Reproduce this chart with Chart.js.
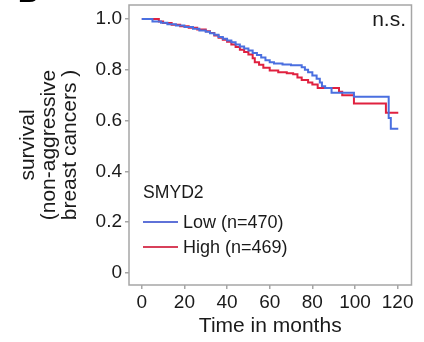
<!DOCTYPE html>
<html>
<head>
<meta charset="utf-8">
<script src="https://cdn.jsdelivr.net/npm/chart.js@4"></script>
<style>
  html, body { margin: 0; padding: 0; background: #fff; }
  #wrap { position: relative; width: 424px; height: 342px; overflow: hidden; font-family: "Liberation Sans", Arial, sans-serif; color: #1a1a1a; }
  canvas { position: absolute; left: 0; top: 0; }
  .lbl { position: absolute; white-space: nowrap; }
  .swatch { position: absolute; height: 2px; }
</style>
</head>
<body>
<div id="wrap">
  <canvas id="km" width="424" height="342"></canvas>
  <div class="lbl" style="left:18px; top:-21px; font-size:28px; line-height:28px; font-weight:bold; color:#000">B</div>
  <div class="lbl" style="right:18px; top:8px; font-size:21px; line-height:21px">n.s.</div>
  <div class="lbl" style="left:143px; top:184px; font-size:17.6px; line-height:17.6px">SMYD2</div>
  <div class="swatch" style="left:143px; top:221px; width:35px; background:#5f72d8"></div>
  <div class="lbl" style="left:183px; top:213px; font-size:18px; line-height:18px">Low (n=470)</div>
  <div class="swatch" style="left:143px; top:246px; width:35px; background:#d8405a"></div>
  <div class="lbl" style="left:183px; top:238px; font-size:18px; line-height:18px">High (n=469)</div>
</div>
<script>
"use strict";
// --- dados (Kaplan-Meier, degraus) -------------------------------------------
const lowT  = [0, 5, 9, 12, 16, 20, 24, 27, 30, 32, 34, 36, 38, 40, 42, 44, 46, 48, 50, 52, 54, 56, 58, 60, 62, 66, 70, 75, 76.5, 78, 80, 82, 83.5, 84.5, 86, 89, 99.5, 115.8, 116.8, 120.3];
const lowS  = [1.0, 0.99, 0.985, 0.979, 0.974, 0.968, 0.962, 0.955, 0.95, 0.944, 0.938, 0.929, 0.922, 0.915, 0.908, 0.9, 0.892, 0.884, 0.876, 0.866, 0.858, 0.848, 0.838, 0.83, 0.825, 0.821, 0.818, 0.81, 0.8, 0.79, 0.778, 0.765, 0.75, 0.735, 0.728, 0.71, 0.694, 0.61, 0.568, 0.568];
const highT = [0, 8, 10, 14, 18, 22, 26, 30, 32, 34, 36, 38, 40, 42, 44, 46, 48, 50, 52, 53, 55, 57, 60, 64, 68, 71, 73, 75, 78, 80, 82.5, 92.5, 94, 99.5, 114.5, 120.3];
const highS = [1.0, 0.99, 0.984, 0.977, 0.971, 0.965, 0.959, 0.952, 0.945, 0.935, 0.926, 0.918, 0.91, 0.9, 0.89, 0.879, 0.87, 0.86, 0.845, 0.83, 0.82, 0.808, 0.797, 0.79, 0.786, 0.782, 0.77, 0.76, 0.75, 0.742, 0.728, 0.714, 0.7, 0.667, 0.631, 0.631];
const xTicks = [0, 20, 40, 60, 80, 100, 120];
const yTicks = [0, 0.2, 0.4, 0.6, 0.8, 1.0];
const yTickLabels = ["0", "0.2", "0.4", "0.6", "0.8", "1.0"];

const FONT = "'Liberation Sans', Arial, sans-serif";
const AXIS = "#a6a6a6", TXT = "#1a1a1a";

function pts(ts, ss) { return ts.map((t, i) => ({ x: t, y: ss[i] })); }

// moldura completa em volta da área do gráfico
const boxBorder = {
  id: "boxBorder",
  afterDraw(chart) {
    const { ctx, chartArea: a } = chart;
    ctx.save();
    ctx.strokeStyle = AXIS; ctx.lineWidth = 1.5;
    ctx.strokeRect(a.left, a.top, a.right - a.left, a.bottom - a.top);
    ctx.restore();
  }
};

function noPad(s) { s.paddingTop = 0; s.paddingBottom = 0; s.paddingLeft = 0; s.paddingRight = 0; }

function axis(extra) {
  return Object.assign({
    type: "linear",
    grid: { display: true, drawOnChartArea: false, drawTicks: true, tickLength: 4, color: AXIS, lineWidth: 1.5 },
    border: { display: false },
  }, extra);
}

new Chart(document.getElementById("km"), {
  type: "line",
  data: {
    datasets: [
      { label: "Low (n=470)", data: pts(lowT, lowS), borderColor: "#4a6fe0", borderWidth: 2, stepped: "before", pointRadius: 0 },
      { label: "High (n=469)", data: pts(highT, highS), borderColor: "#e0213f", borderWidth: 2, stepped: "before", pointRadius: 0 }
    ]
  },
  options: {
    responsive: false, animation: false, devicePixelRatio: 1,
    layout: { padding: { top: 5, right: 12.5, left: 0, bottom: 0 } },
    plugins: { legend: { display: false }, tooltip: { enabled: false } },
    scales: {
      x: axis({
        min: -6, max: 126.5,
        afterBuildTicks: (s) => { s.ticks = xTicks.map((v) => ({ value: v })); },
        afterFit: (s) => { s.height = 57; noPad(s); },
        ticks: { color: TXT, font: { family: FONT, size: 19 }, padding: 2, maxRotation: 0, autoSkip: false },
        title: { display: true, text: "Time in months", color: TXT, font: { family: FONT, size: 21, lineHeight: 1.05 }, padding: { top: 0, bottom: 5 } }
      }),
      y: axis({
        min: -0.047, max: 1.055,
        afterBuildTicks: (s) => { s.ticks = yTicks.map((v) => ({ value: v })); },
        afterFit: (s) => { s.width = 129; noPad(s); },
        ticks: { color: TXT, font: { family: FONT, size: 19 }, padding: 3, autoSkip: false,
          callback: (v) => yTickLabels[yTicks.findIndex((t) => Math.abs(t - v) < 1e-6)] },
        title: { display: true, text: ["survival", "(non-aggressive", "breast cancers )"], color: TXT,
          font: { family: FONT, size: 21, lineHeight: 1.02 }, padding: { top: 17, bottom: 0 } }
      })
    }
  },
  plugins: [boxBorder]
});
</script>
</body>
</html>
